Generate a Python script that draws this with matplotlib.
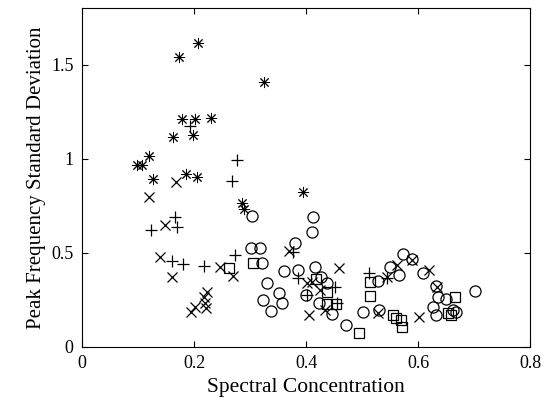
import matplotlib.pyplot as plt

plt.rcParams['font.family'] = 'Liberation Serif'

# asterisco
star_x = [0.208, 0.173, 0.325, 0.178, 0.202, 0.230, 0.198, 0.163, 0.098, 0.107,
          0.120, 0.127, 0.186, 0.205, 0.394, 0.285, 0.290]
star_y = [1.612, 1.539, 1.408, 1.213, 1.209, 1.216, 1.128, 1.113, 0.965, 0.968,
          1.012, 0.891, 0.918, 0.902, 0.824, 0.764, 0.733]

# cruces
plus_x = [0.193, 0.277, 0.267, 0.166, 0.170, 0.123, 0.160, 0.180, 0.218, 0.274,
          0.376, 0.386, 0.401, 0.451, 0.455, 0.513, 0.544]
plus_y = [1.172, 0.993, 0.883, 0.688, 0.638, 0.619, 0.454, 0.440, 0.432, 0.486,
          0.502, 0.365, 0.277, 0.321, 0.232, 0.395, 0.365]

# equis
cross_x = [0.168, 0.119, 0.148, 0.139, 0.160, 0.246, 0.269, 0.223, 0.217, 0.220,
           0.221, 0.202, 0.195, 0.370, 0.459, 0.405, 0.401, 0.411, 0.425, 0.434,
           0.529, 0.602, 0.589, 0.620, 0.563, 0.544, 0.634]
cross_y = [0.878, 0.798, 0.647, 0.480, 0.374, 0.423, 0.378, 0.291, 0.268, 0.232,
           0.205, 0.214, 0.188, 0.511, 0.420, 0.170, 0.339, 0.346, 0.303, 0.197,
           0.179, 0.157, 0.460, 0.408, 0.436, 0.374, 0.321]

# círculos
circ_x = [0.303, 0.301, 0.318, 0.322, 0.360, 0.330, 0.352, 0.324, 0.357, 0.338,
          0.413, 0.411, 0.380, 0.386, 0.416, 0.427, 0.438, 0.400, 0.424, 0.446,
          0.529, 0.501, 0.531, 0.471, 0.550, 0.566, 0.573, 0.589, 0.609, 0.633,
          0.636, 0.650, 0.702, 0.626, 0.633, 0.668, 0.662]
circ_y = [0.693, 0.528, 0.528, 0.445, 0.404, 0.339, 0.285, 0.250, 0.236, 0.193,
          0.688, 0.613, 0.551, 0.410, 0.427, 0.374, 0.339, 0.277, 0.236, 0.176,
          0.348, 0.188, 0.197, 0.117, 0.424, 0.383, 0.495, 0.466, 0.391, 0.324,
          0.268, 0.253, 0.298, 0.211, 0.170, 0.188, 0.196]

# cuadrados
sq_x = [0.263, 0.306, 0.418, 0.438, 0.437, 0.454, 0.515, 0.514, 0.495, 0.555,
        0.561, 0.569, 0.572, 0.666, 0.654, 0.659]
sq_y = [0.422, 0.445, 0.360, 0.293, 0.230, 0.230, 0.344, 0.271, 0.073, 0.170,
        0.154, 0.141, 0.108, 0.264, 0.179, 0.170]

fig = plt.figure(figsize=(5.49, 4.09), dpi=100)
ax = fig.add_axes([0.1494, 0.1516, 0.816, 0.8288])

kw = dict(linestyle='none', color='black', markerfacecolor='none')
ax.plot(circ_x, circ_y, marker='o', markersize=8, markeredgewidth=0.9, **kw)
ax.plot(sq_x, sq_y, marker='s', markersize=7, markeredgewidth=0.9, **kw)
ax.plot(cross_x, cross_y, marker='x', markersize=7, markeredgewidth=0.9, **kw)
ax.plot(plus_x, plus_y, marker='+', markersize=9, markeredgewidth=0.9, **kw)
ax.plot(star_x, star_y, marker=(8, 2, 0), markersize=8, markeredgewidth=0.7, **kw)

ax.set_xlim(0, 0.8)
ax.set_ylim(0, 1.8)
ax.set_xticks([0, 0.2, 0.4, 0.6, 0.8])
ax.set_xticklabels(['0', '0.2', '0.4', '0.6', '0.8'])
ax.set_yticks([0, 0.5, 1, 1.5])
ax.set_yticklabels(['0', '0.5', '1', '1.5'])
ax.tick_params(direction='in', top=True, right=True, labelsize=13, length=4, pad=6)
ax.set_xlabel("Spectral Concentration", fontsize=15.5)
ax.set_ylabel("Peak Frequency Standard Deviation", fontsize=15)

plt.savefig("out.png", dpi=100)
